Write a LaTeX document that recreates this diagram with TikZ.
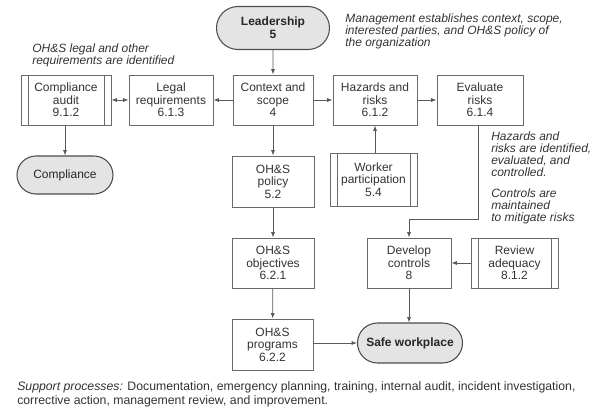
\documentclass[tikz,border=0pt]{standalone}
\usepackage{fontspec}
\setmainfont{Liberation Sans}
\usetikzlibrary{arrows.meta,shapes.misc}
\definecolor{linec}{HTML}{6A6A6A}
\definecolor{txt}{HTML}{333333}
\definecolor{pillfill}{HTML}{E4E4E4}
\begin{document}
\begin{tikzpicture}[x=0.75pt,y=-0.75pt,
  box/.style={draw=linec, line width=0.7pt, minimum width={#1*0.75pt}, minimum height=37.5pt,
    align=center, inner sep=0pt, text=txt, font=\fontsize{9}{9.4}\selectfont},
  dbl/.style={path picture={
    \draw[linec, line width=0.6pt] ([xshift=5.25pt]path picture bounding box.north west) -- ([xshift=5.25pt]path picture bounding box.south west);
    \draw[linec, line width=0.6pt] ([xshift=-5.25pt]path picture bounding box.north east) -- ([xshift=-5.25pt]path picture bounding box.south east);}},
  pill/.style={rounded rectangle, draw=black!70, line width=0.8pt, fill=pillfill, align=center,
    inner sep=0pt, text=black!85, font=\fontsize{9}{10}\selectfont\bfseries},
  note/.style={anchor=north west, inner sep=0pt, align=left, text=txt, font=\fontsize{9}{9}\selectfont\itshape},
  conn/.style={draw=black!65, line width=0.6pt, -{Latex[length=4pt,width=3pt]}},
  bconn/.style={draw=black!65, line width=0.6pt, {Latex[length=4pt,width=3pt]}-{Latex[length=4pt,width=3pt]}}
]
\useasboundingbox (0,0) rectangle (600,410);

% nodes
\node[pill, minimum width=84.75pt, minimum height=32.25pt] (lead) at (273,28) {Leadership\\5};
\node[box=90, dbl] (ca) at (66,100) {Compliance\\audit\\9.1.2};
\node[box=84] (legal) at (171,100) {Legal\\requirements\\6.1.3};
\node[box=80] (ctx) at (273,100) {Context and\\scope\\4};
\node[box=84] (haz) at (375,100) {Hazards and\\risks\\6.1.2};
\node[box=86] (eval) at (480,100) {Evaluate\\risks\\6.1.4};
\node[pill, font=\fontsize{9}{10}\selectfont, minimum width=72pt, minimum height=28.5pt] (comp) at (65,175) {Compliance};
\node[box=82, minimum height=38.25pt] (pol) at (273,181.5) {OH\&S\\policy\\5.2};
\node[box=87, dbl, minimum height=39.75pt] (work) at (373.5,179.5) {Worker\\participation\\5.4};
\node[box=82] (obj) at (273,263) {OH\&S\\objectives\\6.2.1};
\node[box=84] (dev) at (409,263) {Develop\\controls\\8};
\node[box=87, dbl] (rev) at (514.5,263) {Review\\adequacy\\8.1.2};
\node[box=81, minimum height=38.25pt] (prog) at (272.5,344.5) {OH\&S\\programs\\6.2.2};
\node[pill, minimum width=78.75pt, minimum height=30pt] (safe) at (410,343) {Safe workplace};

% notes
\node[note] (n1) at (32,44) {OH\&S legal and other\\requirements are identified};
\node[note] (n2) at (345,14) {Management establishes context, scope,\\interested parties, and OH\&S policy of\\the organization};
\node[note] (n3) at (491,132) {Hazards and\\risks are identified,\\evaluated, and\\controlled.};
\node[note] (n4) at (491,189) {Controls are\\maintained\\to mitigate risks};
\node[anchor=north west, inner sep=0pt, align=left, text=txt, font=\fontsize{9.2}{10.5}\selectfont] (sup) at (17,381)
  {\textit{Support processes:} Documentation, emergency planning, training, internal audit, incident investigation,\\corrective action, management review, and improvement.};

% connectors
\draw[conn] (lead) -- (ctx);
\draw[conn] (ctx) -- (legal);
\draw[bconn] (legal) -- (ca);
\draw[conn] (ca.south -| comp.north) -- (comp.north);
\draw[conn] (ctx) -- (haz);
\draw[conn] (haz) -- (eval);
\draw[conn] (work.north -| haz.south) -- (haz.south);
\coordinate (bend) at (478,219);
\draw[conn] (eval.south -| bend) -- (bend) -| (dev.north);
\draw[conn] (rev) -- (dev);
\draw[conn] (dev.south) -- (dev.south |- safe.north);
\draw[conn] (ctx) -- (pol);
\draw[conn] (pol) -- (obj);
\draw[conn] (obj) -- (prog);
\draw[conn] (prog.east |- safe.west) -- (safe.west);
\end{tikzpicture}
\end{document}
